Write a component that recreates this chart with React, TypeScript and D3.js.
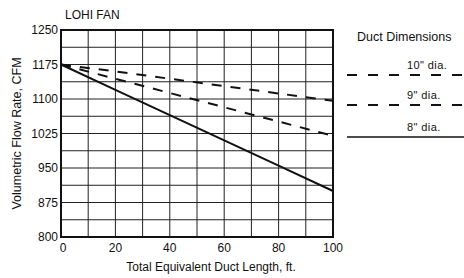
import React from "react";
import * as d3 from "d3";

const lengths = [0, 20, 40, 60, 80, 100];
const cfm10 = [1175, 1160, 1144, 1128, 1112, 1096];
const cfm9 = [1175, 1144, 1113, 1082, 1051, 1020];
const cfm8 = [1175, 1120, 1065, 1010, 955, 900];
const xTicks = [0, 20, 40, 60, 80, 100];
const yTicks = [800, 875, 950, 1025, 1100, 1175, 1250];
const legendLabels = ['10" dia.', '9" dia.', '8" dia.'];

const W = 464;
const H = 278;
const M = { left: 61, right: 333, top: 30, bottom: 237 };
const FONT = "'Liberation Sans', Arial, Helvetica, sans-serif";

export default function App() {
  const x = d3.scaleLinear().domain([0, 100]).range([M.left, M.right]);
  const y = d3.scaleLinear().domain([800, 1250]).range([M.bottom, M.top]);
  const line = d3
    .line<[number, number]>()
    .x((d) => x(d[0]))
    .y((d) => y(d[1]));
  const mk = (vals: number[]) => lengths.map((l, i) => [l, vals[i]] as [number, number]);
  const xGrid = d3.range(0, 101, 10);
  const yGrid = d3.range(800, 1251, 37.5);
  const series = [
    { vals: cfm10, dash: "10,9" },
    { vals: cfm9, dash: "10,9" },
    { vals: cfm8, dash: undefined as string | undefined },
  ];
  const legendY = [75, 105, 137];
  return (
    <svg
      width={W}
      height={H}
      style={{ position: "absolute", left: 0, top: 0, background: "#fff" }}
      fontFamily={FONT}
    >
      <rect x={0} y={0} width={W} height={H} fill="#fff" />
      <text x={65} y={19} fontSize={12} fill="#111">LOHI FAN</text>
      {xGrid.map((v) => (
        <line key={"xg" + v} x1={x(v)} x2={x(v)} y1={M.top} y2={M.bottom} stroke="#222" strokeWidth={1} />
      ))}
      {yGrid.map((v) => (
        <line key={"yg" + v} x1={M.left} x2={M.right} y1={y(v)} y2={y(v)} stroke="#222" strokeWidth={1} />
      ))}
      <rect
        x={M.left}
        y={M.top}
        width={M.right - M.left}
        height={M.bottom - M.top}
        fill="none"
        stroke="#111"
        strokeWidth={2}
      />
      {series.map((s, i) => (
        <path
          key={"s" + i}
          d={line(mk(s.vals)) || ""}
          fill="none"
          stroke="#111"
          strokeWidth={2}
          strokeDasharray={s.dash}
        />
      ))}
      {yTicks.map((v) => (
        <text
          key={"yt" + v}
          x={M.left - 3}
          y={y(v) + 4}
          fontSize={12}
          textAnchor="end"
          fill="#111"
        >
          {v}
        </text>
      ))}
      {xTicks.map((v) => (
        <text
          key={"xt" + v}
          x={x(v) + (v === 0 ? 2 : 0)}
          y={252}
          fontSize={12}
          textAnchor="middle"
          fill="#111"
        >
          {v}
        </text>
      ))}
      <text x={211} y={271} fontSize={12} textAnchor="middle" fill="#111">
        Total Equivalent Duct Length, ft.
      </text>
      <text
        transform={`translate(21,${(M.top + M.bottom) / 2}) rotate(-90)`}
        fontSize={12.5}
        textAnchor="middle"
        fill="#111"
      >
        Volumetric Flow Rate, CFM
      </text>
      <text x={357} y={41} fontSize={12.5} fill="#111">Duct Dimensions</text>
      {legendLabels.map((lab, i) => (
        <g key={"lg" + i}>
          <text x={407} y={legendY[i] - 6} fontSize={11} letterSpacing={0.4} fill="#111">{lab}</text>
          <line
            x1={347}
            x2={464}
            y1={legendY[i]}
            y2={legendY[i]}
            stroke="#111"
            strokeWidth={i === 2 ? 1.5 : 2}
            strokeDasharray={series[i].dash ? "10,11" : undefined}
          />
        </g>
      ))}
    </svg>
  );
}
